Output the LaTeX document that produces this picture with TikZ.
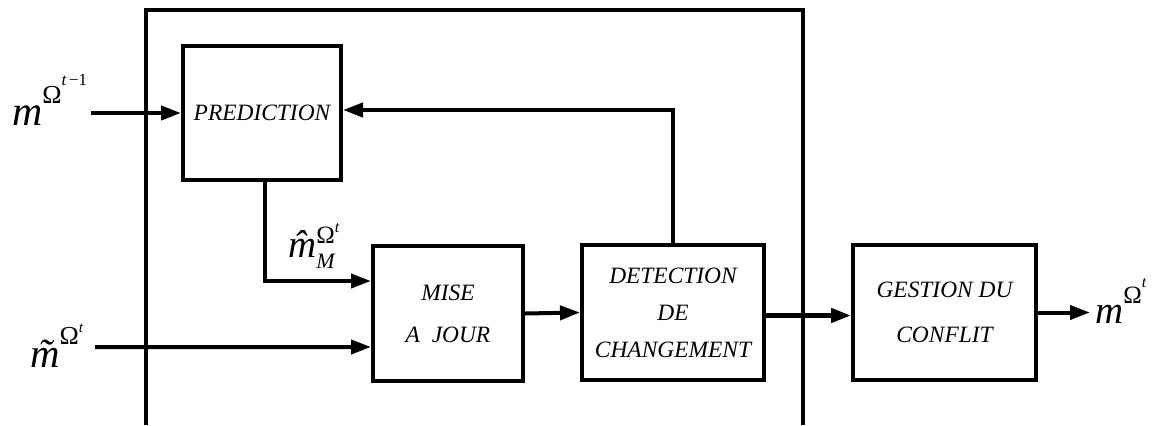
\documentclass[tikz,border=0pt]{standalone}
\usepackage{fontspec}
\setmainfont{Liberation Serif}
\usetikzlibrary{arrows.meta,calc}
\begin{document}
\begin{tikzpicture}[x=1bp,y=-1bp,
  box/.style={draw, line width=4bp, inner sep=0pt, align=center, minimum height=135bp},
  conn/.style={line width=4bp, -{Triangle[length=20bp,width=14bp]}},
  frameline/.style={line width=4bp},
  lbl/.style={inner sep=0pt, anchor=base west},
  boxfont/.style={font=\fontsize{23.5}{#1}\selectfont\itshape}
]
\useasboundingbox (0,0) rectangle (1158,425);
% outer frame
\coordinate (fbl) at (146,425);
\coordinate (ftl) at (146,10);
\coordinate (ftr) at (803,10);
\coordinate (fbr) at (803,425);
\draw[frameline] (fbl) -- (ftl) -- (ftr) -- (fbr);
% boxes
\node[box, boxfont=38, minimum width=158bp, minimum height=134bp] (pred) at (262,113) {PREDICTION};
\node[box, boxfont=42, minimum width=150bp] (mise) at (448,313.5) {MISE\\A\ \ JOUR};
\node[box, boxfont=37, minimum width=182bp] (det) at (673,312.5) {DETECTION\\DE\\CHANGEMENT};
\node[box, boxfont=45, minimum width=183bp] (gest) at (944.5,312.5) {GESTION DU\\CONFLIT};
% coordinates for free ends
\coordinate (in1) at (91,113);
\coordinate (in2) at (95,347);
\coordinate (out) at (1090,312.5);
% connectors
\draw[conn] (in1) -- (pred.west);
\draw[conn] (det.north) |- ([yshift=3bp]pred.east);
\draw[conn] ([xshift=3bp]pred.south) |- ([yshift=32.5bp]mise.west);
\draw[conn] (in2) -- ([yshift=-33.5bp]mise.west);
\draw[conn] (mise.east) -- (det.west);
\draw[conn, line width=4.5bp] ([yshift=-3bp]det.east) -- ([yshift=-3bp]gest.west);
\draw[conn] (gest.east) -- (out);
% labels
\node[lbl] (lin1) at (12,125) {\fontsize{42}{42}\selectfont\itshape m\raisebox{22bp}{\fontsize{26}{26}\selectfont\upshape Ω\raisebox{18bp}{\fontsize{17}{17}\selectfont\itshape t\,\upshape −1}}};
\node[lbl] (lhat) at (288,257) {\fontsize{39}{39}\selectfont\itshape \^{m}\rlap{\raisebox{14bp}{\fontsize{25}{25}\selectfont\upshape Ω\raisebox{11bp}{\fontsize{16}{16}\selectfont\itshape t}}}\raisebox{-11bp}{\fontsize{22}{22}\selectfont\itshape M}};
\node[lbl] (ltil) at (30,367) {\fontsize{41}{41}\selectfont\itshape \~{m}\raisebox{23bp}{\fontsize{26}{26}\selectfont\upshape Ω\raisebox{12bp}{\fontsize{15}{15}\selectfont\itshape t}}};
\node[lbl] (lout) at (1095,323) {\fontsize{39}{39}\selectfont\itshape m\raisebox{20bp}{\fontsize{25}{25}\selectfont\upshape Ω\raisebox{16bp}{\fontsize{16}{16}\selectfont\itshape t}}};
\end{tikzpicture}
\end{document}
